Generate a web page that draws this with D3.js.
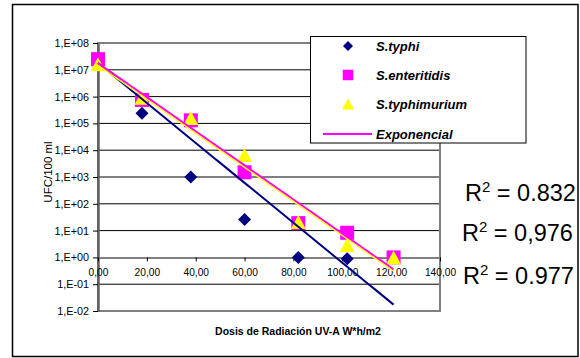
<!DOCTYPE html>
<html>
<head>
<meta charset="utf-8">
<script src="https://cdn.jsdelivr.net/npm/d3@7"></script>
<style>
  html, body { margin: 0; padding: 0; background: #fff; }
  svg { display: block; font-family: "Liberation Sans", Arial, sans-serif; }
</style>
</head>
<body>
<svg id="chart" width="580" height="358"></svg>
<script>
// UV-A dose (W*h/m2) at each sampling point
const doses = [0, 18, 38, 60, 82, 102, 121];

// Surviving counts (UFC/100 ml) per strain
const typhi       = [1.5e7, 2.4e5, 1.0e3, 26, 1.0, 0.9];
const enteritidis = [2.5e7, 7.5e5, 1.3e5, 1.5e3, 19, 8.3, 1.0];
const typhimurium = [1.6e7, 9.0e5, 1.6e5, 6.6e3, 21, 2.9, 1.0];

// Exponential trend lines y = a * exp(b * x), fitted over the dose range
const trendA = [1.78e7, 1.78e7, 1.48e7];
const trendB = [-0.1715, -0.1465, -0.1463];
const trendRange = [0, 121];

// Goodness-of-fit labels
const r2Values = ["0.832", "0,976", "0.977"];

// Axis ticks
const xTicks = [0, 20, 40, 60, 80, 100, 120, 140];
const xTickLabels = ["0,00", "20,00", "40,00", "60,00", "80,00", "100,00", "120,00", "140,00"];
const yTicks = [1e8, 1e7, 1e6, 1e5, 1e4, 1e3, 1e2, 1e1, 1e0, 1e-1, 1e-2];
const yTickLabels = ["1,E+08", "1,E+07", "1,E+06", "1,E+05", "1,E+04", "1,E+03", "1,E+02", "1,E+01", "1,E+00", "1,E-01", "1,E-02"];

const seriesNames = ["S.typhi", "S.enteritidis", "S.typhimurium"];
const seriesData = [typhi, enteritidis, typhimurium];
const colors = ["#000080", "#FF00FF", "#FFFF00"];

const svg = d3.select("#chart");

// Outer chart frame
svg.append("rect")
  .attr("x", 12.5).attr("y", 4.5).attr("width", 565.5).attr("height", 352)
  .attr("fill", "#fff").attr("stroke", "#000").attr("stroke-width", 1.5);

const plot = { left: 98, right: 440, top: 43, bottom: 311 };
const x = d3.scaleLinear().domain([0, 140]).range([plot.left, plot.right]);
const y = d3.scaleLog().domain([1e-2, 1e8]).range([plot.bottom, plot.top]);

// Horizontal gridlines at each decade
svg.append("g").selectAll("line")
  .data(yTicks.filter(v => v !== 1e8 && v !== 1e-2 && v !== 1))
  .join("line")
  .attr("x1", plot.left).attr("x2", plot.right)
  .attr("y1", d => y(d)).attr("y2", d => y(d))
  .attr("stroke", "#000").attr("stroke-width", 1);

// Plot area border
svg.append("rect")
  .attr("x", plot.left).attr("y", plot.top)
  .attr("width", plot.right - plot.left).attr("height", plot.bottom - plot.top)
  .attr("fill", "none").attr("stroke", "#808080").attr("stroke-width", 2);

// Y axis
const yAxis = d3.axisLeft(y)
  .tickValues(yTicks)
  .tickFormat((d, i) => yTickLabels[i])
  .tickSizeInner(5).tickSizeOuter(0).tickPadding(4);
const gy = svg.append("g").attr("transform", `translate(${plot.left},0)`).call(yAxis);
gy.select(".domain").attr("stroke", "#606060").attr("stroke-width", 2.5);
gy.selectAll(".tick line").attr("stroke", "#000");
gy.selectAll("text").attr("font-size", 10.8).attr("fill", "#000");

// X axis crossing at 1,E+00
const xAxis = d3.axisBottom(x)
  .tickValues(xTicks)
  .tickFormat((d, i) => xTickLabels[i])
  .tickSizeInner(4).tickSizeOuter(0).tickPadding(7);
const gx = svg.append("g").attr("transform", `translate(0,${y(1)})`).call(xAxis);
gx.select(".domain").attr("stroke", "#808080").attr("stroke-width", 2);
gx.selectAll(".tick line").attr("stroke", "#000");
gx.selectAll("text").attr("font-size", 10.2).attr("fill", "#000");

// Axis titles
svg.append("text")
  .attr("transform", `translate(52,${(plot.top + plot.bottom) / 2 - 5}) rotate(-90)`)
  .attr("text-anchor", "middle").attr("font-size", 11.5)
  .text("UFC/100 ml");
svg.append("text")
  .attr("x", 298).attr("y", 335)
  .attr("text-anchor", "middle").attr("font-size", 10.5).attr("font-weight", "bold")
  .text("Dosis de Radiación UV-A W*h/m2");

// Marker shapes
function markerPath(kind, s) {
  if (kind === 0) { const h = s / 2; return `M0,${-h}L${h},0L0,${h}L${-h},0Z`; }
  if (kind === 1) { const h = s / 2; return `M${-h},${-h}H${h}V${h}H${-h}Z`; }
  const w = s * 1.07 / 2, h = s / 2;
  return `M0,${-h}L${w},${h}L${-w},${h}Z`;
}
const markerSize = [13, 14, 14];

// Data markers
seriesData.forEach((vals, k) => {
  svg.append("g").selectAll("path")
    .data(vals.map((v, i) => ({ x: doses[i], v })))
    .join("path")
    .attr("transform", d => `translate(${x(d.x)},${y(d.v)})`)
    .attr("d", markerPath(k, markerSize[k]))
    .attr("fill", colors[k]);
});

// Exponential trend lines
const line = d3.line().x(d => x(d[0])).y(d => y(d[1]));
const trendWidth = [2, 2, 1.3];
trendA.forEach((a, k) => {
  const pts = d3.range(trendRange[0], trendRange[1] + 0.5, 1)
    .map(t => [t, a * Math.exp(trendB[k] * t)]);
  svg.append("path")
    .attr("d", line(pts))
    .attr("fill", "none")
    .attr("stroke", colors[k])
    .attr("stroke-width", trendWidth[k]);
});

// Legend
const lg = svg.append("g");
lg.append("rect")
  .attr("x", 310.5).attr("y", 36.5).attr("width", 215.5).attr("height", 106.5)
  .attr("fill", "#fff").attr("stroke", "#000").attr("stroke-width", 1);
const legendRows = [46, 75, 104];
const legendSizes = [10, 10.5, 11];
seriesNames.forEach((name, k) => {
  lg.append("path")
    .attr("transform", `translate(348,${legendRows[k]})`)
    .attr("d", markerPath(k, legendSizes[k]))
    .attr("fill", colors[k]);
  lg.append("text")
    .attr("x", 376).attr("y", legendRows[k] + 4.8)
    .attr("font-size", 13).attr("font-weight", "bold").attr("font-style", "italic")
    .text(name);
});
lg.append("line")
  .attr("x1", 323).attr("x2", 372).attr("y1", 134).attr("y2", 134)
  .attr("stroke", "#FF00FF").attr("stroke-width", 2);
lg.append("text")
  .attr("x", 376).attr("y", 138.5)
  .attr("font-size", 13).attr("font-weight", "bold").attr("font-style", "italic")
  .text("Exponencial");

// R² annotations
const r2X = [465, 462, 463];
const r2Y = [201, 241, 284];
r2Values.forEach((v, i) => {
  const t = svg.append("text")
    .attr("x", r2X[i]).attr("y", r2Y[i])
    .attr("font-size", 23.5).attr("fill", "#000");
  t.append("tspan").text("R");
  t.append("tspan").attr("font-size", 15).attr("dy", -9).text("2");
  t.append("tspan").attr("dy", 9).text(" = " + v);
});
</script>
</body>
</html>
